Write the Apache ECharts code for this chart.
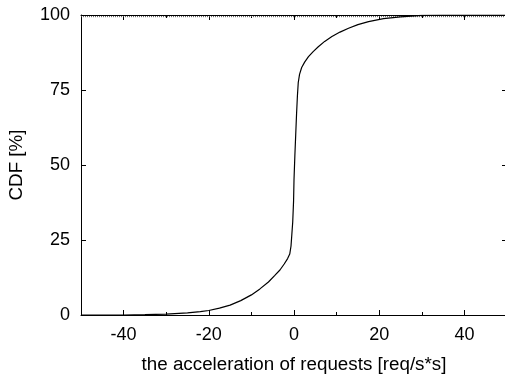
<!DOCTYPE html>
<html><head><meta charset="utf-8">
<script src="https://cdn.jsdelivr.net/npm/echarts@6/dist/echarts.min.js"></script>
<style>html,body{margin:0;padding:0;background:#fff}#c{width:505px;height:376px}</style>
</head><body><div id="c"></div>
<script>
const accel = [-50,-40,-35,-30,-25,-22,-20,-17.5,-15,-12.5,-10,-8,-6,-4.5,-3.3,-2.3,-1.5,-1,-0.7,-0.5,-0.3,-0.1,0,0.2,0.4,0.6,0.8,1.0,1.3,1.8,2.5,3.4,4.5,5.7,7.2,8.9,10.8,12.8,15,17.5,21,25,30,35,50];
const cdf   = [0,0,0.1,0.3,0.7,1.1,1.5,2.3,3.3,4.8,6.7,8.7,11,13.2,15,17,18.8,20.3,23,27,31,38,45,53,60,67,73,77.5,80.2,82.5,84.3,86.1,87.8,89.4,91.2,92.8,94.3,95.6,96.8,97.8,98.8,99.4,99.85,100,100];
const xMajorTicks = [-40,-20,0,20,40];
const xMinorTicks = [-30,-10,10,30];
const yTicks = [0,25,50,75,100];
const refLineX = [-50,50];
const refLineY = 99.45;
const xName = 'the acceleration of requests [req/s*s]';
const yName = 'CDF [%]';

const font = '"Liberation Sans", Arial, Helvetica, sans-serif';
const fs = 18;
const nfs = 18.8;
function xAx(pos, ticks, len, showLabel, showLine){
  return {type:'value', min:-50, max:50, interval:10, position:pos,
    axisLine:{show:showLine, onZero:false, lineStyle:{color:'#000', width:1}},
    axisTick:{show:true, inside:true, length:len, customValues:ticks, lineStyle:{color:'#000'}},
    axisLabel:{show:showLabel, customValues:xMajorTicks, color:'#000', fontSize:fs, fontFamily:font, margin:11},
    splitLine:{show:false}};
}
const xAxes = [xAx('bottom', xMajorTicks, 5, true, true), xAx('bottom', xMinorTicks, 3, false, false),
               xAx('top', xMajorTicks, 5, false, true), xAx('top', xMinorTicks, 3, false, false)];
xAxes[0].name = xName; xAxes[0].nameLocation='middle'; xAxes[0].nameGap=40;
xAxes[0].nameTextStyle = {color:'#000', fontSize:nfs, fontFamily:font};
function yAx(pos, showLabel){
  return {type:'value', min:0, max:100, interval:25, position:pos,
    axisLine:{show:pos==='left', onZero:false, lineStyle:{color:'#000', width:1}},
    axisTick:{show:true, inside:true, length:5, customValues:yTicks, lineStyle:{color:'#000'}},
    axisLabel:{show:showLabel, customValues:yTicks, color:'#000', fontSize:fs, fontFamily:font, margin:11},
    splitLine:{show:false}};
}
const yAxes = [yAx('left', true), yAx('right', false)];
yAxes[0].name = yName; yAxes[0].nameLocation='middle'; yAxes[0].nameGap=55; yAxes[0].nameRotate=90;
yAxes[0].nameTextStyle = {color:'#000', fontSize:nfs, fontFamily:font};

const chart = echarts.init(document.getElementById('c'), null, {renderer:'canvas'});
chart.setOption({
  animation:false,
  backgroundColor:'#fff',
  grid:{left:81, right:-2, top:15, bottom:61, containLabel:false, outerBoundsMode:'none'},
  xAxis:xAxes, yAxis:yAxes,
  series:[
    {type:'line', xAxisIndex:0, yAxisIndex:0, data:refLineX.map(x=>[x,refLineY]), showSymbol:false,
     lineStyle:{color:'#555', width:1, type:[1,1]}, z:1},
    {type:'line', xAxisIndex:0, yAxisIndex:0, data:accel.map((x,i)=>[x,cdf[i]]), showSymbol:false,
     smooth:false, lineStyle:{color:'#000', width:1.2}, z:2}
  ]
});
</script></body></html>
